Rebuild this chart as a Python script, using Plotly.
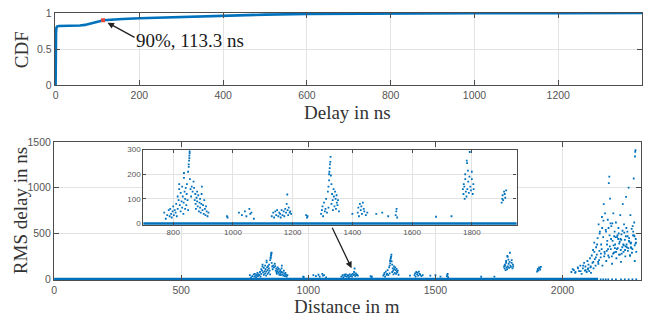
import plotly.graph_objects as go

# ---------------- data ----------------
# CDF of delay (top panel)
delay_ns = [0, 0, 0.5, 1, 2, 4, 8, 15, 30, 45, 58, 70, 82, 95, 105, 113.3, 130, 160, 200, 250, 290,
            350, 400, 450, 500, 600, 700, 800, 900, 1000, 1200, 1400]
cdf_vals = [0, 0.2, 0.45, 0.72, 0.8, 0.815, 0.82, 0.82, 0.821, 0.823, 0.826, 0.835, 0.85, 0.87, 0.885,
            0.9, 0.908, 0.918, 0.927, 0.937, 0.945, 0.955, 0.965, 0.972, 0.978, 0.986, 0.99, 0.993,
            0.995, 0.996, 0.998, 1.0]
mark_delay = [113.3]
mark_cdf = [0.9]

# RMS delay vs distance (bottom panel), clusters
dist_m = [
    770, 775, 780, 785, 788, 790, 793, 795, 798, 800, 802, 805, 808, 810, 812, 815, 815, 818, 820, 820,
    822, 825, 825, 828, 830, 830, 832, 834, 835, 836, 836, 838, 840, 840, 842, 844, 845, 846, 848, 850,
    850, 852, 852, 853, 854, 854, 855, 855, 856, 858, 860, 862, 865, 868, 870, 872, 874, 875, 876, 878,
    880, 880, 882, 884, 886, 888, 890, 890, 892, 894, 895, 896, 898, 900, 902, 904, 906, 908, 910, 912,
    915, 918,
    980, 982, 1020, 1030, 1040, 1045, 1055, 1058, 1062, 1070,
    1130, 1135, 1138, 1142, 1145, 1148, 1152, 1155, 1158, 1160, 1163, 1166, 1170, 1172, 1175, 1178,
    1180, 1182, 1183, 1185, 1187, 1190, 1192, 1195, 1245, 1248, 1250,
    1295, 1298, 1300, 1302, 1305, 1308, 1310, 1312, 1315, 1318, 1320, 1320, 1322, 1322, 1323, 1324,
    1325, 1326, 1327, 1328, 1330, 1330, 1332, 1334, 1335, 1337, 1338, 1340, 1342, 1344, 1345, 1347,
    1348, 1350, 1352, 1355,
    1400, 1418, 1420, 1422, 1425, 1428, 1430, 1432, 1435, 1438, 1440, 1445, 1450,
    1480, 1500, 1520, 1545, 1547, 1548, 1550, 1680, 1732,
    1770, 1772, 1773, 1775, 1776, 1778, 1778, 1780, 1782, 1783, 1784, 1785, 1787, 1788, 1790, 1792,
    1793, 1795, 1797, 1800, 1800, 1803, 1805, 1806,
    1900, 1902, 1903, 1905, 1908, 1910, 1912, 1915,
    2035, 2040, 2050, 2060, 2065, 2070, 2075, 2080, 2085, 2088, 2090, 2095, 2098, 2100, 2102, 2105,
    2108, 2110, 2112, 2115, 2118, 2120, 2122, 2125, 2127, 2130, 2132, 2135, 2138, 2140, 2142, 2145,
    2147, 2150, 2152, 2155, 2157, 2160, 2162, 2165, 2167, 2170, 2172, 2175, 2178, 2180, 2182, 2184,
    2185, 2187, 2190, 2192, 2195, 2197, 2200, 2202, 2205, 2207, 2210, 2212, 2215, 2217, 2220, 2222,
    2225, 2227, 2230, 2232, 2235, 2237, 2240, 2242, 2245, 2247, 2250, 2252, 2255, 2257, 2260, 2262,
    2265, 2267, 2270, 2272, 2275, 2277, 2280, 2282, 2284, 2285, 2286, 2287, 2288, 2290,
    2176, 2186, 2194, 2203, 2214, 2223, 2233, 2243, 2253, 2263, 2273, 2283, 2189, 2208, 2228, 2248,
    2268, 2278, 2199, 2219, 2239, 2259, 2179, 2209, 2229, 2249, 2269, 2289, 2164, 2174, 2154, 2144,
    2181, 2191, 2201, 2211, 2221, 2231, 2241, 2251, 2261, 2271, 2281, 2287, 2183, 2196, 2206, 2216,
    2226, 2236, 2246, 2256, 2266, 2276, 2284, 2171, 2161, 2151, 2141, 2131, 2121, 2111, 2101, 2091,
    2081, 2071, 2061, 2051, 2045, 2125, 2136, 2146, 2156, 2166,
]
rms_ns = [
    45, 20, 35, 55, 30, 60, 40, 25, 50, 70, 35, 55, 45, 80, 30, 60, 110, 95, 140, 160,
    75, 50, 125, 90, 150, 65, 110, 40, 85, 185, 205, 130, 100, 60, 145, 75, 120, 160, 95, 55,
    210, 230, 240, 255, 265, 275, 285, 292, 180, 140, 110, 150, 130, 170, 145, 95, 120, 80, 60, 105,
    90, 130, 70, 115, 50, 85, 100, 65, 45, 80, 120, 150, 55, 75, 40, 95, 60, 35, 70, 50,
    30, 45,
    30, 25, 45, 35, 50, 30, 60, 40, 45, 20,
    30, 45, 25, 50, 35, 55, 30, 45, 40, 25, 55, 35, 50, 30, 60, 45,
    80, 118, 55, 35, 65, 45, 50, 40, 35, 25, 30,
    40, 55, 70, 30, 85, 50, 60, 100, 45, 130, 150, 65, 175, 200, 210, 225,
    240, 250, 270, 195, 160, 80, 120, 95, 55, 140, 110, 70, 130, 100, 60, 115,
    85, 75, 95, 50,
    40, 45, 65, 30, 80, 55, 70, 40, 85, 60, 50, 35, 45,
    40, 45, 30, 35, 50, 60, 25, 28, 30,
    140, 120, 160, 150, 100, 180, 200, 130, 110, 255, 245, 140, 215, 170, 125, 190,
    290, 150, 135, 210, 180, 120, 160, 140,
    85, 100, 115, 95, 130, 120, 105, 135,
    80, 110, 70, 130, 90, 150, 60, 120, 180, 95, 140, 80, 200, 110, 160, 90,
    230, 130, 70, 260, 180, 320, 120, 400, 220, 150, 350, 270, 450, 190, 600, 310,
    520, 240, 380, 680, 150, 460, 820, 300, 720, 540, 200, 380, 650, 260, 1050, 1120,
    480, 880, 330, 580, 170, 420, 720, 290, 520, 380, 620, 230, 460, 340, 560, 270,
    410, 700, 190, 490, 350, 820, 300, 600, 430, 250, 900, 380, 520, 310, 1000, 450,
    260, 700, 400, 550, 330, 480, 1100, 620, 370, 1340, 1390, 1410, 440, 300,
    420, 360, 250, 470, 330, 390, 280, 510, 350, 410, 290, 470, 610, 300, 440, 360,
    390, 520, 280, 440, 380, 340, 330, 460, 320, 470, 350, 400, 250, 310, 330, 210,
    560, 440, 370, 300, 500, 430, 370, 560, 420, 340, 480, 390, 240, 610, 340, 480,
    270, 530, 320, 470, 260, 580, 200, 520, 640, 280, 170, 240, 190, 140, 120, 100,
    150, 90, 120, 80, 100, 300, 380, 500, 560, 280,
]

# near-zero RMS delay points forming the baseline
base_dist = [0, 2140]
base_rms = [0, 0]
tail_zero_dist = [2150, 2160, 2170, 2180, 2195, 2210, 2230, 2245, 2260, 2275, 2290]
tail_zero_rms = [0, 0, 0, 0, 0, 0, 0, 0, 0, 0, 0]

# ---------------- layout helpers ----------------
W, H = 649, 327
BLUE = "#0072BD"
AX = "#4d4d4d"
GRID = "#e3e3e3"
TICKF = dict(family="Liberation Sans, Arial", size=10.5, color="#555555")
INSETF = dict(family="Liberation Sans, Arial", size=8, color="#555555")
TITLEF = dict(family="Liberation Serif, Times New Roman", size=19, color="#333333")


def px(x):
    return x / W


def py(y):
    return 1 - y / H


def axis_style(**kw):
    d = dict(showline=True, linecolor=AX, linewidth=1.3, mirror="ticks", ticks="inside",
             ticklen=5, tickcolor=AX, showgrid=True, gridcolor=GRID, gridwidth=1,
             zeroline=False, tickfont=TICKF)
    d.update(kw)
    return d


fig = go.Figure()

# top CDF
fig.add_trace(go.Scatter(x=delay_ns, y=cdf_vals, mode="lines", line=dict(color=BLUE, width=2.6),
                         xaxis="x", yaxis="y", showlegend=False))
fig.add_trace(go.Scatter(x=mark_delay, y=mark_cdf, mode="markers",
                         marker=dict(color="#e8443a", size=4, symbol="square"),
                         xaxis="x", yaxis="y", showlegend=False))

# main scatter + inset
for xa, ya, ms in (("x2", "y2", 1.8), ("x3", "y3", 1.8)):
    fig.add_trace(go.Scatter(x=base_dist, y=base_rms, mode="lines", line=dict(color=BLUE, width=3),
                             xaxis=xa, yaxis=ya, showlegend=False))
    fig.add_trace(go.Scatter(x=tail_zero_dist, y=tail_zero_rms, mode="markers",
                             marker=dict(color=BLUE, size=ms, symbol="square", line=dict(width=0)),
                             xaxis=xa, yaxis=ya, showlegend=False, cliponaxis=False))
    fig.add_trace(go.Scatter(x=dist_m, y=rms_ns, mode="markers",
                             marker=dict(color=BLUE, size=ms, symbol="square", line=dict(width=0)),
                             xaxis=xa, yaxis=ya, showlegend=False))

fig.update_layout(
    width=W, height=H, autosize=False,
    margin=dict(l=0, r=0, t=0, b=0),
    paper_bgcolor="white", plot_bgcolor="white",
    xaxis=axis_style(domain=[px(52), px(642)], range=[-2, 1400], tickvals=list(range(0, 1401, 200)),
                     anchor="y"),
    yaxis=axis_style(domain=[py(82), py(7.3)], range=[0, 1], tickvals=[0, 0.5, 1],
                     anchor="x"),
    xaxis2=axis_style(domain=[px(51.3), px(641.3)], range=[0, 2310], tickvals=[0, 500, 1000, 1500, 2000],
                      anchor="y2"),
    yaxis2=axis_style(domain=[py(284.7), py(141)], range=[-10, 1500], tickvals=[0, 500, 1000, 1500],
                      anchor="x2"),
    xaxis3=axis_style(domain=[px(141), px(516)], range=[700, 1950],
                      tickvals=[800, 1000, 1200, 1400, 1600, 1800], anchor="y3", ticklen=3,
                      tickfont=INSETF),
    yaxis3=axis_style(domain=[py(227), py(149)], range=[-4, 300], tickvals=[0, 100, 200, 300],
                      anchor="x3", ticklen=3, tickfont=INSETF),
)

# white background for inset (hides main grid beneath it)
fig.add_shape(type="rect", xref="x3", yref="y3", x0=700, x1=1950, y0=-4, y1=300,
              fillcolor="white", line=dict(width=0), layer="below")

ann = [
    dict(text="Delay in ns", x=px(346), y=py(111), xref="paper", yref="paper",
         showarrow=False, font=TITLEF, xanchor="center", yanchor="middle"),
    dict(text="CDF", x=px(18), y=py(45), xref="paper", yref="paper", textangle=-90,
         showarrow=False, font=TITLEF, xanchor="center", yanchor="middle"),
    dict(text="Distance in m", x=px(346), y=py(312), xref="paper", yref="paper",
         showarrow=False, font=TITLEF, xanchor="center", yanchor="middle"),
    dict(text="RMS delay in ns", x=px(17), y=py(212), xref="paper", yref="paper", textangle=-90,
         showarrow=False, font=TITLEF, xanchor="center", yanchor="middle"),
    dict(text="90%, 113.3 ns", x=px(132), y=py(36), xref="paper", yref="paper",
         showarrow=False, font=dict(family="Liberation Serif, Times New Roman", size=19, color="#1a1a1a"),
         xanchor="left", yanchor="middle"),
    dict(text="", x=113.3, y=0.9, xref="x", yref="y", showarrow=True, ax=33, ay=18,
         arrowhead=2, arrowsize=1, arrowwidth=1.3, arrowcolor="#222222", standoff=5),
    dict(text="", x=1170, y=122, xref="x2", yref="y2", showarrow=True, ax=-20, ay=-42,
         arrowhead=2, arrowsize=1, arrowwidth=1.3, arrowcolor="#222222", standoff=0),
]
fig.update_layout(annotations=ann)

fig.write_html(
    "out.html", config={"displayModeBar": False},
    post_script="document.body.style.margin='0';document.body.style.padding='0';")
